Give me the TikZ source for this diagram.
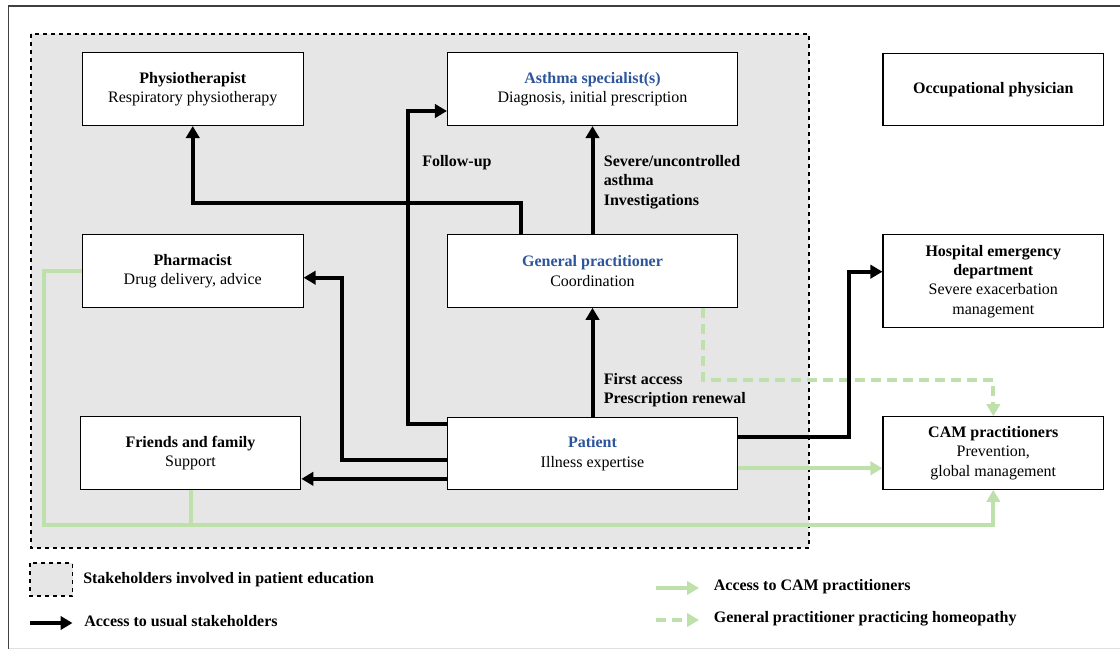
\documentclass[tikz,border=0pt]{standalone}
\usepackage{fontspec}
\setmainfont{Liberation Serif}
\definecolor{TitleBlue}{RGB}{45,85,155}
\definecolor{CamGreen}{RGB}{190,225,172}
\definecolor{EduGray}{RGB}{230,230,230}
\usepackage{tikz}
\usetikzlibrary{positioning, arrows.meta, calc}

\begin{document}
\begin{tikzpicture}[x=0.75pt, y=-0.75pt, font=\fontsize{12}{14.5}\selectfont,
    box/.style={draw, thick, fill=white, align=center, minimum height=54.5pt, inner sep=2pt},
    smallbox/.style={box, minimum width=165.5pt},
    widebox/.style={box, minimum width=217.5pt},
    arr/.style={line width=3pt, -{Triangle[length=9pt, width=10pt]}},
    camline/.style={CamGreen, line width=3pt},
    camarr/.style={camline, -{Triangle[length=9pt, width=10pt]}},
    homarr/.style={camarr, dash pattern=on 7.5pt off 4.5pt},
    lbl/.style={font=\fontsize{12}{14.5}\selectfont\bfseries, align=left, inner sep=0pt}]
  \useasboundingbox (0,0) rectangle (1120,649);
  % frame
  \draw[thick, black!75] (8.6,649) |- (1120,6);
  \draw[black!12] (8.6,648) -- (1120,648);
  % education area
  \draw[dashed, thick, fill=EduGray] (31,34) rectangle (809,548);

  % stakeholders
  \node[smallbox] (physio) at (192.75,89.2) {\textbf{Physiotherapist}\\Respiratory physiotherapy};
  \node[widebox] (asthma) at (592.5,89.2) {\textbf{\color{TitleBlue}Asthma specialist(s)}\\Diagnosis, initial prescription};
  \node[smallbox] (occup) at (993.3,89.5) {\textbf{Occupational physician}};
  \node[smallbox] (pharm) at (192.75,271) {\textbf{Pharmacist}\\Drug delivery, advice};
  \node[widebox] (gp) at (592.5,271) {\textbf{\color{TitleBlue}General practitioner}\\Coordination};
  \node[smallbox, minimum height=69.5pt] (hosp) at (993.3,281.2) {\textbf{Hospital emergency}\\\textbf{department}\\Severe exacerbation\\management};
  \node[smallbox] (friends) at (190.5,453) {\textbf{Friends and family}\\Support};
  \node[widebox] (patient) at (592.5,453.5) {\textbf{\color{TitleBlue}Patient}\\Illness expertise};
  \node[smallbox] (cam) at (993.3,453) {\textbf{CAM practitioners}\\Prevention,\\global management};

  % bends
  \coordinate (fkA) at (521,203);
  \coordinate (fkB) at (408,424.3);
  \coordinate (fkB2) at (408,111);
  \coordinate (fkC) at (342,460);
  \coordinate (fkC2) at (342,277.7);
  \coordinate (fkE) at (848.6,436.7);
  \coordinate (fkE2) at (848.6,271.7);
  \coordinate (gnA) at (43.6,525);
  \coordinate (gnB) at (703,380);

  % green paths (CAM)
  \draw[camline] (friends.south) -- (friends.south |- gnA);
  \draw[camarr] (pharm.west) -| (gnA) -| (cam.south);
  \draw[camarr] ([yshift=-11.1pt]patient.east) -- ([yshift=-11.1pt]patient.east -| cam.west);
  \draw[homarr] (gp.south -| gnB) -- (gnB) -| (cam.north);

  % usual access
  \draw[arr] (gp.north -| fkA) |- (physio.south |- fkA) -- (physio.south);
  \draw[arr] (patient.west |- fkB) -| (fkB2) -- (asthma.west |- fkB2);
  \draw[arr] (patient.west |- fkC) -| (fkC2) -- (pharm.east |- fkC2);
  \draw[arr] ([yshift=-19pt]patient.west) -- ([yshift=-19pt]patient.west -| friends.east);
  \draw[arr] (patient.north) -- (gp.south);
  \draw[arr] (gp.north) -- (asthma.south);
  \draw[arr] (patient.east |- fkE) -| (fkE2) -- (hosp.west |- fkE2);

  % labels
  \node[lbl, anchor=west] (followup) at (422,163) {Follow-up};
  \node[lbl, anchor=west] (severe) at (603.6,182) {Severe/uncontrolled\\asthma\\Investigations};
  \node[lbl, anchor=west] (first) at (603.6,390) {First access\\Prescription renewal};

  % legend
  \draw[dashed, thick, fill=EduGray] (30,563) rectangle (72.5,596);
  \node[lbl, anchor=west] (keyedu) at (83,579.5) {Stakeholders involved in patient education};
  \coordinate (keyA) at (30,623);
  \draw[arr] (keyA) -- ++(42.5,0);
  \node[lbl, anchor=west] (keyusual) at (84,621) {Access to usual stakeholders};
  \coordinate (keyB) at (656,588);
  \draw[camarr] (keyB) -- ++(43,0);
  \node[lbl, anchor=west] (keycam) at (713.6,587) {Access to CAM practitioners};
  \coordinate (keyC) at (656,620);
  \draw[homarr] (keyC) -- ++(43,0);
  \node[lbl, anchor=west] (keyhom) at (713.6,618.5) {General practitioner practicing homeopathy};
\end{tikzpicture}
\end{document}
